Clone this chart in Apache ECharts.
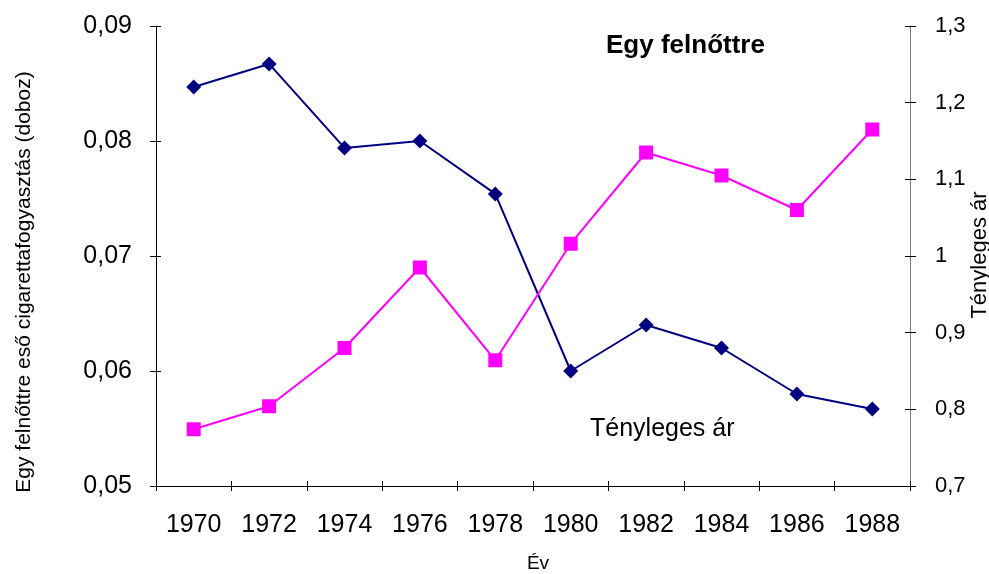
<!DOCTYPE html>
<html>
<head>
<meta charset="utf-8">
<script src="https://cdn.jsdelivr.net/npm/echarts@6/dist/echarts.min.js"></script>
<style>
  html, body { margin: 0; padding: 0; background: #fff; }
  #chart { width: 989px; height: 574px; }
</style>
</head>
<body>
<div id="chart"></div>
<script>
// years on the x axis
var years = ['1970', '1972', '1974', '1976', '1978', '1980', '1982', '1984', '1986', '1988']
// consumption per adult (packs), left axis
var consumption = [0.0847, 0.0867, 0.0794, 0.0800, 0.0754, 0.0600, 0.0640, 0.0620, 0.0580, 0.0567]
// real price, right axis
var realPrice = [0.774, 0.804, 0.880, 0.985, 0.864, 1.016, 1.135, 1.105, 1.060, 1.165]

var FONT = 'Liberation Sans, Arial, sans-serif'

var chart = echarts.init(document.getElementById('chart'))

function comma(v, d) {
  return String(+v.toFixed(d)).replace('.', ',')
}

chart.setOption({
  animation: false,
  backgroundColor: '#fff',
  grid: { left: 156, right: 79, top: 26, bottom: 88 },
  xAxis: [{
    type: 'category',
    data: years,
    boundaryGap: true,
    position: 'bottom',
    axisLine: { lineStyle: { color: '#000', width: 1 } },
    axisTick: { show: true, length: 5, lineStyle: { color: '#000' } },
    axisLabel: { color: '#000', fontSize: 25, fontFamily: FONT, margin: 27, interval: 0 },
    splitLine: { show: false }
  }, {
    // inner half of the crossing ticks
    type: 'category',
    data: years,
    boundaryGap: true,
    position: 'bottom',
    axisLine: { show: false },
    axisTick: { show: true, inside: true, length: 5, lineStyle: { color: '#000' } },
    axisLabel: { show: false },
    splitLine: { show: false }
  }],
  yAxis: [{
    type: 'value',
    min: 0.05,
    max: 0.09,
    interval: 0.01,
    position: 'left',
    axisLine: { show: true, lineStyle: { color: '#000' } },
    axisTick: { show: true, length: 6, lineStyle: { color: '#000' } },
    axisLabel: { color: '#000', fontSize: 25, fontFamily: FONT, margin: 24, formatter: function(v) { return comma(v, 2) } },
    splitLine: { show: false }
  }, {
    type: 'value',
    min: 0.7,
    max: 1.3,
    interval: 0.1,
    position: 'right',
    axisLine: { show: true, lineStyle: { color: '#808080' } },
    axisTick: { show: true, length: 6, lineStyle: { color: '#000' } },
    axisLabel: { color: '#000', fontSize: 22, fontFamily: FONT, margin: 25, formatter: function(v) { return comma(v, 1) } },
    splitLine: { show: false }
  }, {
    type: 'value',
    min: 0.05,
    max: 0.09,
    interval: 0.01,
    position: 'left',
    axisLine: { show: false },
    axisTick: { show: true, inside: true, length: 5, lineStyle: { color: '#000' } },
    axisLabel: { show: false },
    splitLine: { show: false }
  }, {
    type: 'value',
    min: 0.7,
    max: 1.3,
    interval: 0.1,
    position: 'right',
    axisLine: { show: false },
    axisTick: { show: true, inside: true, length: 5, lineStyle: { color: '#000' } },
    axisLabel: { show: false },
    splitLine: { show: false }
  }],
  series: [
    {
      name: 'Egy felnőttre',
      type: 'line',
      xAxisIndex: 0,
      yAxisIndex: 0,
      data: consumption,
      symbol: 'diamond',
      symbolSize: 15,
      lineStyle: { color: '#000080', width: 2 },
      itemStyle: { color: '#000080' }
    },
    {
      name: 'Tényleges ár',
      type: 'line',
      xAxisIndex: 0,
      yAxisIndex: 1,
      data: realPrice,
      symbol: 'rect',
      symbolSize: 14,
      lineStyle: { color: '#ff00ff', width: 2 },
      itemStyle: { color: '#ff00ff' }
    }
  ],
  graphic: [
    {
      type: 'text', left: 606, top: 33,
      style: { text: 'Egy felnőttre', fontSize: 26, fontWeight: 'bold', fontFamily: FONT, fill: '#000' }
    },
    {
      type: 'text', left: 590, top: 417,
      style: { text: 'Tényleges ár', fontSize: 25, fontFamily: FONT, fill: '#000' }
    },
    {
      type: 'text', x: 24, y: 282, rotation: Math.PI / 2,
      style: { text: 'Egy felnőttre eső cigarettafogyasztás (doboz)', fontSize: 21, fontFamily: FONT, fill: '#000', align: 'center', verticalAlign: 'middle' }
    },
    {
      type: 'text', x: 980, y: 255, rotation: Math.PI / 2,
      style: { text: 'Tényleges ár', fontSize: 22, fontFamily: FONT, fill: '#000', align: 'center', verticalAlign: 'middle' }
    },
    {
      type: 'text', x: 538, y: 564,
      style: { text: 'Év', fontSize: 19, fontFamily: FONT, fill: '#000', align: 'center', verticalAlign: 'middle' }
    }
  ]
})
</script>
</body>
</html>
